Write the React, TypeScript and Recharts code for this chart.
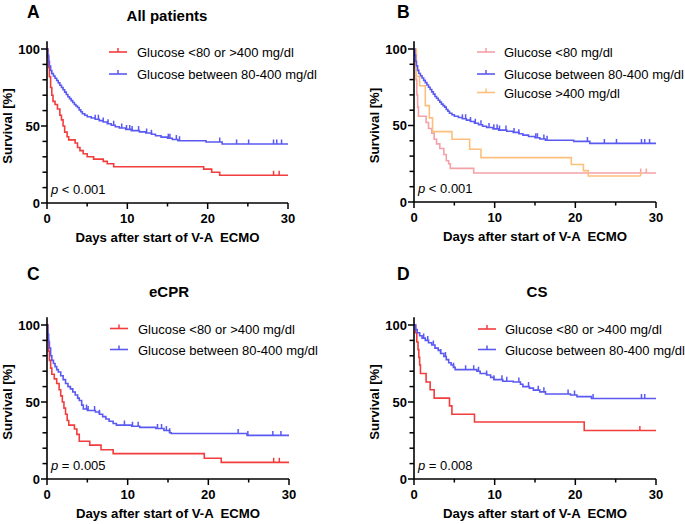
import { ComposedChart, Line, Scatter, XAxis, YAxis } from "recharts";

const FONT = "'Liberation Sans', Arial, Helvetica, sans-serif";
const RED = "#F23D3D";
const BLUE = "#5A5AF2";
const PINK = "#F4A1A8";
const ORANGE = "#FDBF7B";

const X_TICKS = [0, 5, 10, 15, 20, 25, 30];
const Y_TICKS = [0, 10, 20, 30, 40, 50, 60, 70, 80, 90, 100];

// glucose between 80-400 mg/dl, all patients (panels A and B)
const allBlueT = [0, 0.1, 0.2, 0.3, 0.45, 0.6, 0.8, 1.0, 1.2, 1.4, 1.6, 1.8, 2.0, 2.2, 2.4, 2.6, 2.8, 3.0, 3.2, 3.4, 3.6, 3.8, 4.0, 4.2, 4.4, 4.7, 5.0, 5.5, 6.0, 6.5, 7.0, 7.5, 8.0, 8.5, 9.0, 9.8, 10.5, 11.5, 12.3, 13.0, 13.5, 14.2, 15.0, 15.6, 16.3, 19.8, 21.8];
const allBlueS = [100, 96, 92, 89, 86, 84, 82.5, 81, 79.5, 78, 76.5, 75, 73.5, 72, 70.5, 69, 67.8, 66.5, 65.3, 64, 63, 62, 60.5, 59.3, 58, 57, 56, 55.2, 54.4, 53.5, 52.6, 51.5, 50.5, 49.5, 48.7, 47.8, 47, 46.2, 45.5, 44.6, 43.7, 42.8, 42, 41.2, 40.4, 39.6, 38.3];
const allBlueCensor = [6.0, 6.4, 7.0, 7.6, 8.3, 9.3, 9.9, 10.3, 10.6, 11.4, 12.4, 13.0, 15.1, 15.3, 16.1, 16.5, 21.5, 23.6, 25.1, 28.2, 28.6, 29.2];
const allBlueEnd = 30;

// glucose <80 or >400 mg/dl, all patients
const allRedT = [0, 0.1, 0.2, 0.3, 0.45, 0.6, 0.75, 1.0, 1.3, 1.6, 1.8, 2.0, 2.2, 2.5, 2.7, 3.5, 3.8, 4.1, 4.5, 5.0, 5.8, 7.0, 7.5, 8.3, 19.5, 20.5, 21.5];
const allRedS = [100, 95, 88, 82, 75, 70, 66, 64, 61, 57, 54, 50, 46, 43, 41, 39, 36, 34, 32, 30, 28.5, 27, 25.5, 23.5, 22, 20, 18];
const allRedCensor = [28.2, 28.9];
const allRedEnd = 30;

// glucose <80 mg/dl
const lowT = [0, 0.15, 0.25, 0.35, 0.45, 0.55, 1.5, 1.8, 2.2, 2.5, 2.8, 3.2, 3.7, 4.0, 4.3, 4.5, 7.4];
const lowS = [100, 90, 80, 70, 62, 56, 52, 48, 45, 41, 38, 35, 31, 27, 25, 22, 19];
const lowCensor = [28.1, 28.8];
const lowEnd = 30;

// glucose >400 mg/dl
const highT = [0, 0.3, 0.7, 1.4, 1.9, 2.3, 4.7, 6.9, 8.3, 19.5, 21.0, 21.6];
const highS = [100, 82, 76, 63, 55, 46, 41, 34.5, 29, 24.5, 20.5, 17];
const highCensor = [28.1];
const highEnd = 28.1;

// eCPR
const ecprRedT = [0, 0.1, 0.2, 0.3, 0.45, 0.6, 0.9, 1.2, 1.5, 1.7, 1.9, 2.1, 2.3, 2.5, 2.7, 3.4, 3.7, 4.0, 5.3, 6.7, 8.2, 19.5, 21.6];
const ecprRedS = [100, 90, 83, 77, 72, 68, 65, 62, 58, 54, 50, 46, 42, 38, 35, 32.5, 29, 24.5, 22, 19, 16.5, 13.5, 10.8];
const ecprRedCensor = [28.1, 28.8];
const ecprRedEnd = 30;

const ecprBlueT = [0, 0.1, 0.2, 0.3, 0.45, 0.6, 0.8, 1.0, 1.2, 1.4, 1.7, 2.0, 2.3, 2.6, 2.9, 3.2, 3.5, 3.8, 4.0, 4.3, 4.5, 5.0, 6.0, 6.5, 6.9, 7.3, 7.7, 8.2, 8.6, 10.5, 11.5, 13.5, 14.5, 15.2, 15.4, 24.8];
const ecprBlueS = [100, 94, 89, 85, 80, 77, 75, 73, 71, 69.5, 67, 64.5, 62, 60, 58.5, 56.5, 54.5, 52.5, 51, 48, 45.5, 44.5, 43.5, 42, 40.5, 39, 37.5, 36, 35, 34.3, 33.5, 32.8, 31.5, 30, 29.5, 28.3];
const ecprBlueCensor = [4.9, 5.1, 5.9, 6.5, 9.6, 10.6, 11.3, 13.7, 14.2, 14.8, 15.2, 23.7, 24.9, 28.0, 29.0];
const ecprBlueEnd = 30;

// CS
const csRedT = [0, 0.2, 0.35, 0.5, 0.6, 0.7, 0.8, 1.5, 2.0, 2.5, 4.4, 4.7, 7.5, 21.1];
const csRedS = [100, 95, 89, 84, 79, 74, 68.5, 63, 58, 52.5, 47.5, 42, 37, 31.5];
const csRedCensor = [28.0];
const csRedEnd = 30;

const csBlueT = [0, 0.2, 0.4, 0.7, 1.0, 1.4, 1.8, 2.2, 2.6, 3.0, 3.3, 3.7, 4.0, 4.3, 4.6, 4.9, 5.1, 7.8, 8.2, 9.0, 9.5, 9.9, 11.0, 12.3, 13.2, 13.5, 14.3, 14.8, 15.6, 16.3, 19.4, 20.2, 22.0];
const csBlueS = [100, 97, 95, 93, 91.5, 90, 88.5, 87, 85, 83.5, 81.5, 79.5, 77.5, 75.5, 74, 72.5, 71, 70, 68.5, 67.5, 66, 64.5, 63.5, 63, 61.5, 60, 59, 57.7, 56.6, 55.2, 54.5, 53.5, 52.3];
const csBlueCensor = [1.2, 1.7, 2.4, 3.3, 3.9, 4.9, 6.4, 7.4, 8.0, 9.0, 9.9, 10.9, 11.5, 13.0, 14.2, 15.4, 16.1, 19.1, 19.9, 22.2, 28.2, 28.6];
const csBlueEnd = 30;

type Curve = {
  name: string;
  t: number[];
  s: number[];
  end: number;
  censor: number[];
  color: string;
};

type Panel = {
  letter: string;
  title?: string;
  p: string;
  curves: Curve[];
  legendOrder: number[];
  chartLeft: number;
  chartTop: number;
  chartWidth: number;
  plotLeft: number;
  plotRight: number;
  y100: number;
  plotBottom: number;
  titleX?: number;
  legendTextX: number;
  legendLineX: number;
  legendRows: number[];
};

const LOW_HIGH = "Glucose <80 or >400 mg/dl";
const MID = "Glucose between 80-400 mg/dl";

const allRed: Curve = { name: LOW_HIGH, t: allRedT, s: allRedS, end: allRedEnd, censor: allRedCensor, color: RED };
const allBlue: Curve = { name: MID, t: allBlueT, s: allBlueS, end: allBlueEnd, censor: allBlueCensor, color: BLUE };

const panels: Panel[] = [
  {
    letter: "A", title: "All patients", p: " < 0.001",
    curves: [allRed, allBlue], legendOrder: [0, 1],
    chartLeft: 0, chartTop: 0, chartWidth: 342,
    plotLeft: 47, plotRight: 288, y100: 49, plotBottom: 203,
    titleX: 167, legendTextX: 137, legendLineX: 109, legendRows: [52, 74],
  },
  {
    letter: "B", p: " < 0.001",
    curves: [
      { name: "Glucose <80 mg/dl", t: lowT, s: lowS, end: lowEnd, censor: lowCensor, color: PINK },
      { name: "Glucose >400 mg/dl", t: highT, s: highS, end: highEnd, censor: highCensor, color: ORANGE },
      allBlue,
    ],
    legendOrder: [0, 2, 1],
    chartLeft: 342, chartTop: 0, chartWidth: 343,
    plotLeft: 414, plotRight: 656, y100: 49, plotBottom: 202,
    legendTextX: 504, legendLineX: 477, legendRows: [52, 74, 92.5],
  },
  {
    letter: "C", title: "eCPR", p: " = 0.005",
    curves: [
      { name: LOW_HIGH, t: ecprRedT, s: ecprRedS, end: ecprRedEnd, censor: ecprRedCensor, color: RED },
      { name: MID, t: ecprBlueT, s: ecprBlueS, end: ecprBlueEnd, censor: ecprBlueCensor, color: BLUE },
    ],
    legendOrder: [0, 1],
    chartLeft: 0, chartTop: 262, chartWidth: 342,
    plotLeft: 47, plotRight: 289, y100: 325, plotBottom: 479,
    titleX: 169, legendTextX: 138, legendLineX: 110, legendRows: [328.5, 349.5],
  },
  {
    letter: "D", title: "CS", p: " = 0.008",
    curves: [
      { name: LOW_HIGH, t: csRedT, s: csRedS, end: csRedEnd, censor: csRedCensor, color: RED },
      { name: MID, t: csBlueT, s: csBlueS, end: csBlueEnd, censor: csBlueCensor, color: BLUE },
    ],
    legendOrder: [0, 1],
    chartLeft: 342, chartTop: 262, chartWidth: 343,
    plotLeft: 414, plotRight: 656, y100: 325, plotBottom: 479,
    titleX: 537, legendTextX: 505, legendLineX: 478, legendRows: [329, 349.5],
  },
];

function toSteps(c: Curve) {
  const pts = c.t.map((t, i) => ({ t, s: c.s[i] }));
  pts.push({ t: c.end, s: c.s[c.s.length - 1] });
  return pts;
}

// censor marks sit on the curve value at their time
function toCensor(c: Curve) {
  return c.censor.map((t) => {
    let s = c.s[0];
    c.t.forEach((tt, i) => {
      if (tt <= t) s = c.s[i];
    });
    return { t, s };
  });
}

const CensorMark = (color: string) => (props: any) => {
  const { cx, cy } = props;
  return <line x1={cx} x2={cx} y1={cy - 4.5} y2={cy} stroke={color} strokeWidth={1.5} />;
};

function XTick({ x, y, payload }: any) {
  const major = payload.value % 10 === 0;
  return (
    <g>
      <line x1={x} x2={x} y1={y} y2={y + (major ? 6 : 3.5)} stroke="#000" strokeWidth={1.5} />
      {major && (
        <text x={x} y={y + 20} textAnchor="middle" fontSize={13} fontWeight="bold" fontFamily={FONT} fill="#000">
          {payload.value}
        </text>
      )}
    </g>
  );
}

function YTick({ x, y, payload }: any) {
  const major = payload.value % 50 === 0;
  return (
    <g>
      <line x1={x - (major ? 6 : 4.5)} x2={x} y1={y} y2={y} stroke="#000" strokeWidth={1.5} />
      {major && (
        <text x={x - 7} y={y + 4.5} textAnchor="end" fontSize={13} fontWeight="bold" fontFamily={FONT} fill="#000">
          {payload.value}
        </text>
      )}
    </g>
  );
}

function KmPanel({ panel }: { panel: Panel }) {
  const h = 262;
  const plotTop = panel.plotBottom - (panel.plotBottom - panel.y100) * 1.05;
  const margin = {
    left: panel.plotLeft - panel.chartLeft - 40,
    right: panel.chartLeft + panel.chartWidth - panel.plotRight,
    top: plotTop - panel.chartTop,
    bottom: panel.chartTop + h - panel.plotBottom - 30,
  };
  return (
    <div style={{ position: "absolute", left: panel.chartLeft, top: panel.chartTop }}>
      <ComposedChart width={panel.chartWidth} height={h} margin={margin}>
        <XAxis
          type="number"
          dataKey="t"
          domain={[0, 30]}
          ticks={X_TICKS}
          interval={0}
          allowDataOverflow
          height={30}
          tickSize={0}
          tickMargin={0}
          tickLine={false}
          tick={<XTick />}
          axisLine={{ stroke: "#000", strokeWidth: 1.6 }}
        />
        <YAxis
          type="number"
          dataKey="s"
          domain={[0, 105]}
          ticks={Y_TICKS}
          interval={0}
          allowDataOverflow
          width={40}
          tickSize={0}
          tickMargin={0}
          tickLine={false}
          tick={<YTick />}
          axisLine={{ stroke: "#000", strokeWidth: 1.6 }}
        />
        {panel.curves.map((c) => (
          <Line
            key={c.name + "-line"}
            data={toSteps(c)}
            dataKey="s"
            type="stepAfter"
            stroke={c.color}
            strokeWidth={1.6}
            dot={false}
            activeDot={false}
            isAnimationActive={false}
          />
        ))}
        {panel.curves.map((c) => (
          <Scatter
            key={c.name + "-censor"}
            data={toCensor(c)}
            dataKey="s"
            shape={CensorMark(c.color)}
            isAnimationActive={false}
          />
        ))}
      </ComposedChart>
    </div>
  );
}

function Annotations({ panel }: { panel: Panel }) {
  const cx = (panel.plotLeft + panel.plotRight) / 2;
  const cy = (panel.y100 + panel.plotBottom) / 2;
  const top = panel.chartTop;
  return (
    <g fontFamily={FONT} fill="#000">
      <text x={panel.chartLeft === 0 ? 27 : 397} y={top + 17.5} fontSize={17.5} fontWeight="bold">
        {panel.letter}
      </text>
      {panel.title && (
        <text x={panel.titleX} y={top + (panel.chartTop === 0 ? 21 : 35)} fontSize={15} fontWeight="bold" textAnchor="middle">
          {panel.title}
        </text>
      )}
      <text x={cx} y={panel.plotBottom + 39} fontSize={13.2} fontWeight="bold" textAnchor="middle" xmlSpace="preserve">
        Days after start of V-A  ECMO
      </text>
      <text
        x={panel.plotLeft - 35}
        y={cy}
        fontSize={13.2}
        fontWeight="bold"
        textAnchor="middle"
        transform={`rotate(-90 ${panel.plotLeft - 35} ${cy})`}
      >
        Survival [%]
      </text>
      <text x={panel.plotLeft + 4} y={panel.plotBottom - 9} fontSize={13}>
        <tspan fontStyle="italic">p</tspan>
        <tspan xmlSpace="preserve">{panel.p}</tspan>
      </text>
      {panel.legendOrder.map((idx, row) => {
        const c = panel.curves[idx];
        const ly = panel.legendRows[row];
        const lx = panel.legendLineX;
        return (
          <g key={c.name}>
            <line x1={lx} x2={lx + 18} y1={ly} y2={ly} stroke={c.color} strokeWidth={1.6} />
            <line x1={lx + 9} x2={lx + 9} y1={ly - 4} y2={ly} stroke={c.color} strokeWidth={1.5} />
            <text x={panel.legendTextX} y={ly + 5} fontSize={13}>
              {c.name}
            </text>
          </g>
        );
      })}
    </g>
  );
}

export default function App() {
  return (
    <div style={{ position: "absolute", left: 0, top: 0, width: 685, height: 524, background: "#fff", overflow: "hidden" }}>
      {panels.map((p) => (
        <KmPanel key={p.letter} panel={p} />
      ))}
      <svg width={685} height={524} style={{ position: "absolute", left: 0, top: 0, pointerEvents: "none" }}>
        {panels.map((p) => (
          <Annotations key={p.letter} panel={p} />
        ))}
      </svg>
    </div>
  );
}
